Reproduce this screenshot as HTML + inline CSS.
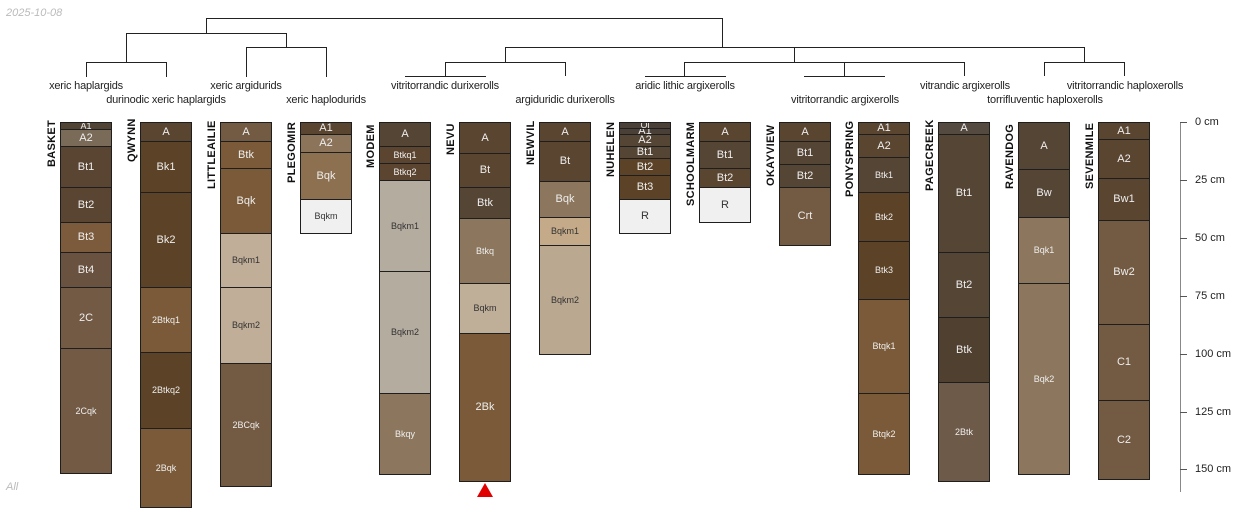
<!DOCTYPE html>
<html><head><meta charset="utf-8"><style>
body{margin:0;width:1250px;height:500px;background:#fff;position:relative;overflow:hidden;font-family:"Liberation Sans",sans-serif}
.l{position:absolute;background:#222}
.t{position:absolute;font-size:11px;color:#222;white-space:nowrap;transform:translateX(-50%);letter-spacing:-0.2px}
.p{position:absolute;top:122px;width:52px}
.h{position:absolute;left:0;right:0;box-sizing:border-box;border:1px solid #1e1e1e;display:flex;align-items:center;justify-content:center;color:#eee;font-size:11px;overflow:hidden;line-height:1}
.s{font-size:9px}
.d{color:#333}
.n{position:absolute;font-weight:bold;font-size:11px;color:#111;transform-origin:0 0;transform:rotate(-90deg);white-space:nowrap;letter-spacing:0.3px}
.ax{position:absolute;font-size:11px;color:#222}
</style></head><body>
<div style="position:absolute;left:6px;top:7px;font-size:11px;color:#bbb;font-style:italic">2025-10-08</div>
<div style="position:absolute;left:6px;top:481px;font-size:11px;color:#bbb;font-style:italic">All</div>

<!-- dendrogram -->
<div class="l" style="left:206px;top:18px;width:517px;height:1px"></div>
<div class="l" style="left:206px;top:18px;width:1px;height:15px"></div>
<div class="l" style="left:722px;top:18px;width:1px;height:29px"></div>
<div class="l" style="left:126px;top:33px;width:161px;height:1px"></div>
<div class="l" style="left:126px;top:33px;width:1px;height:29px"></div>
<div class="l" style="left:286px;top:33px;width:1px;height:14px"></div>
<div class="l" style="left:86px;top:62px;width:81px;height:1px"></div>
<div class="l" style="left:86px;top:62px;width:1px;height:15px"></div>
<div class="l" style="left:166px;top:62px;width:1px;height:15px"></div>
<div class="l" style="left:246px;top:47px;width:81px;height:1px"></div>
<div class="l" style="left:246px;top:47px;width:1px;height:30px"></div>
<div class="l" style="left:326px;top:47px;width:1px;height:30px"></div>
<div class="l" style="left:505px;top:47px;width:580px;height:1px"></div>
<div class="l" style="left:505px;top:47px;width:1px;height:15px"></div>
<div class="l" style="left:445px;top:62px;width:121px;height:1px"></div>
<div class="l" style="left:445px;top:62px;width:1px;height:14px"></div>
<div class="l" style="left:565px;top:62px;width:1px;height:14px"></div>
<div class="l" style="left:405px;top:76px;width:81px;height:1px"></div>
<div class="l" style="left:794px;top:47px;width:1px;height:15px"></div>
<div class="l" style="left:684px;top:62px;width:281px;height:1px"></div>
<div class="l" style="left:684px;top:62px;width:1px;height:14px"></div>
<div class="l" style="left:645px;top:76px;width:81px;height:1px"></div>
<div class="l" style="left:844px;top:62px;width:1px;height:14px"></div>
<div class="l" style="left:804px;top:76px;width:81px;height:1px"></div>
<div class="l" style="left:964px;top:62px;width:1px;height:14px"></div>
<div class="l" style="left:1084px;top:47px;width:1px;height:15px"></div>
<div class="l" style="left:1044px;top:62px;width:81px;height:1px"></div>
<div class="l" style="left:1044px;top:62px;width:1px;height:14px"></div>
<div class="l" style="left:1124px;top:62px;width:1px;height:14px"></div>

<div class="t" style="left:86px;top:80px">xeric haplargids</div>
<div class="t" style="left:166px;top:94px">durinodic xeric haplargids</div>
<div class="t" style="left:246px;top:80px">xeric argidurids</div>
<div class="t" style="left:326px;top:94px">xeric haplodurids</div>
<div class="t" style="left:445px;top:80px">vitritorrandic durixerolls</div>
<div class="t" style="left:565px;top:94px">argiduridic durixerolls</div>
<div class="t" style="left:685px;top:80px">aridic lithic argixerolls</div>
<div class="t" style="left:845px;top:94px">vitritorrandic argixerolls</div>
<div class="t" style="left:965px;top:80px">vitrandic argixerolls</div>
<div class="t" style="left:1045px;top:94px">torrifluventic haploxerolls</div>
<div class="t" style="left:1125px;top:80px">vitritorrandic haploxerolls</div>

<!-- names -->
<div class="n" style="left:46px;top:167px">BASKET</div>
<div class="n" style="left:126px;top:162px">QWYNN</div>
<div class="n" style="left:206px;top:189px">LITTLEAILIE</div>
<div class="n" style="left:286px;top:183px">PLEGOMIR</div>
<div class="n" style="left:365px;top:168px">MODEM</div>
<div class="n" style="left:445px;top:155px">NEVU</div>
<div class="n" style="left:525px;top:165px">NEWVIL</div>
<div class="n" style="left:605px;top:177px">NUHELEN</div>
<div class="n" style="left:685px;top:206px">SCHOOLMARM</div>
<div class="n" style="left:765px;top:186px">OKAYVIEW</div>
<div class="n" style="left:844px;top:197px">PONYSPRING</div>
<div class="n" style="left:924px;top:191px">PAGECREEK</div>
<div class="n" style="left:1004px;top:189px">RAVENDOG</div>
<div class="n" style="left:1084px;top:189px">SEVENMILE</div>

<!-- BASKET -->
<div class="p" style="left:60px">
<div class="h s" style="top:0;height:8px;background:#524434">A1</div>
<div class="h" style="top:7px;height:18px;background:#7a6a58">A2</div>
<div class="h" style="top:24px;height:42px;background:#5a4432">Bt1</div>
<div class="h" style="top:65px;height:36px;background:#5a4432">Bt2</div>
<div class="h" style="top:100px;height:31px;background:#7c5a3c">Bt3</div>
<div class="h" style="top:130px;height:36px;background:#6a5240">Bt4</div>
<div class="h" style="top:165px;height:62px;background:#735a45">2C</div>
<div class="h s" style="top:226px;height:126px;background:#735a45">2Cqk</div>
</div>
<!-- QWYNN -->
<div class="p" style="left:140px">
<div class="h" style="top:0;height:20px;background:#5a4530">A</div>
<div class="h" style="top:19px;height:52px;background:#5c4226">Bk1</div>
<div class="h" style="top:70px;height:96px;background:#5c4226">Bk2</div>
<div class="h s" style="top:165px;height:66px;background:#7a5a38">2Btkq1</div>
<div class="h s" style="top:230px;height:77px;background:#5c4226">2Btkq2</div>
<div class="h s" style="top:306px;height:80px;background:#7a5a38">2Bqk</div>
</div>
<!-- LITTLEAILIE -->
<div class="p" style="left:220px">
<div class="h" style="top:0;height:20px;background:#735a42">A</div>
<div class="h" style="top:19px;height:28px;background:#7a5a38">Btk</div>
<div class="h" style="top:46px;height:66px;background:#7a5a38">Bqk</div>
<div class="h s d" style="top:111px;height:55px;background:#c0ae98">Bqkm1</div>
<div class="h s d" style="top:165px;height:77px;background:#c0ae98">Bqkm2</div>
<div class="h s" style="top:241px;height:124px;background:#735a42">2BCqk</div>
</div>
<!-- PLEGOMIR -->
<div class="p" style="left:300px">
<div class="h" style="top:0;height:13px;background:#5a4530">A1</div>
<div class="h" style="top:12px;height:19px;background:#8c745a">A2</div>
<div class="h" style="top:30px;height:48px;background:#8c7050">Bqk</div>
<div class="h s d" style="top:77px;height:35px;background:#f0f0f0">Bqkm</div>
</div>
<!-- MODEM -->
<div class="p" style="left:379px">
<div class="h" style="top:0;height:25px;background:#554535">A</div>
<div class="h s" style="top:24px;height:18px;background:#5c4530">Btkq1</div>
<div class="h s" style="top:41px;height:18px;background:#5c4530">Btkq2</div>
<div class="h s d" style="top:58px;height:92px;background:#b5aca0">Bqkm1</div>
<div class="h s d" style="top:149px;height:123px;background:#b5aca0">Bqkm2</div>
<div class="h s" style="top:271px;height:82px;background:#8c775e">Bkqy</div>
</div>
<!-- NEVU -->
<div class="p" style="left:459px">
<div class="h" style="top:0;height:32px;background:#5a4530">A</div>
<div class="h" style="top:31px;height:35px;background:#5a4530">Bt</div>
<div class="h" style="top:65px;height:32px;background:#554535">Btk</div>
<div class="h s" style="top:96px;height:66px;background:#8c775e">Btkq</div>
<div class="h s d" style="top:161px;height:51px;background:#bfae98">Bqkm</div>
<div class="h" style="top:211px;height:149px;background:#7a5a38">2Bk</div>
</div>
<div style="position:absolute;left:477px;top:483px;width:0;height:0;border-left:8px solid transparent;border-right:8px solid transparent;border-bottom:14px solid #e00000"></div>
<!-- NEWVIL -->
<div class="p" style="left:539px">
<div class="h" style="top:0;height:20px;background:#5a4530">A</div>
<div class="h" style="top:19px;height:41px;background:#5a4530">Bt</div>
<div class="h" style="top:59px;height:37px;background:#8c775e">Bqk</div>
<div class="h s d" style="top:95px;height:29px;background:#c4aa88">Bqkm1</div>
<div class="h s d" style="top:123px;height:110px;background:#bba890">Bqkm2</div>
</div>
<!-- NUHELEN -->
<div class="p" style="left:619px">
<div class="h s" style="top:0;height:7px;background:#4a4038">Oi</div>
<div class="h" style="top:6px;height:7px;background:#4a4038">A1</div>
<div class="h" style="top:12px;height:13px;background:#554535">A2</div>
<div class="h" style="top:24px;height:13px;background:#554535">Bt1</div>
<div class="h" style="top:36px;height:18px;background:#5c4226">Bt2</div>
<div class="h" style="top:53px;height:25px;background:#5c4226">Bt3</div>
<div class="h d" style="top:77px;height:35px;background:#f0f0f0">R</div>
</div>
<!-- SCHOOLMARM -->
<div class="p" style="left:699px">
<div class="h" style="top:0;height:20px;background:#5a4530">A</div>
<div class="h" style="top:19px;height:28px;background:#554535">Bt1</div>
<div class="h" style="top:46px;height:20px;background:#5a4530">Bt2</div>
<div class="h d" style="top:65px;height:36px;background:#f0f0f0">R</div>
</div>
<!-- OKAYVIEW -->
<div class="p" style="left:779px">
<div class="h" style="top:0;height:20px;background:#5a4530">A</div>
<div class="h" style="top:19px;height:24px;background:#554535">Bt1</div>
<div class="h" style="top:42px;height:24px;background:#554535">Bt2</div>
<div class="h" style="top:65px;height:59px;background:#735a42">Crt</div>
</div>
<!-- PONYSPRING -->
<div class="p" style="left:858px">
<div class="h" style="top:0;height:13px;background:#5a4530">A1</div>
<div class="h" style="top:12px;height:24px;background:#5a4530">A2</div>
<div class="h s" style="top:35px;height:36px;background:#554535">Btk1</div>
<div class="h s" style="top:70px;height:50px;background:#5c4226">Btk2</div>
<div class="h s" style="top:119px;height:59px;background:#5c4226">Btk3</div>
<div class="h s" style="top:177px;height:95px;background:#7a5a38">Btqk1</div>
<div class="h s" style="top:271px;height:82px;background:#7a5a38">Btqk2</div>
</div>
<!-- PAGECREEK -->
<div class="p" style="left:938px">
<div class="h" style="top:0;height:13px;background:#554a40">A</div>
<div class="h" style="top:12px;height:119px;background:#554535">Bt1</div>
<div class="h" style="top:130px;height:66px;background:#554535">Bt2</div>
<div class="h" style="top:195px;height:66px;background:#504030">Btk</div>
<div class="h s" style="top:260px;height:100px;background:#6e5a48">2Btk</div>
</div>
<!-- RAVENDOG -->
<div class="p" style="left:1018px">
<div class="h" style="top:0;height:48px;background:#554535">A</div>
<div class="h" style="top:47px;height:49px;background:#554535">Bw</div>
<div class="h s" style="top:95px;height:67px;background:#8c775e">Bqk1</div>
<div class="h s" style="top:161px;height:192px;background:#8c775e">Bqk2</div>
</div>
<!-- SEVENMILE -->
<div class="p" style="left:1098px">
<div class="h" style="top:0;height:18px;background:#5a4530">A1</div>
<div class="h" style="top:17px;height:40px;background:#5a4530">A2</div>
<div class="h" style="top:56px;height:43px;background:#5a4530">Bw1</div>
<div class="h" style="top:98px;height:105px;background:#735a42">Bw2</div>
<div class="h" style="top:202px;height:77px;background:#735a42">C1</div>
<div class="h" style="top:278px;height:80px;background:#735a42">C2</div>
</div>

<!-- axis -->
<div style="position:absolute;left:1180px;top:122px;width:1px;height:370px;background:#888"></div>
<div style="position:absolute;left:1180px;top:122px;width:7px;height:1px;background:#555"></div>
<div style="position:absolute;left:1180px;top:180px;width:7px;height:1px;background:#555"></div>
<div style="position:absolute;left:1180px;top:238px;width:7px;height:1px;background:#555"></div>
<div style="position:absolute;left:1180px;top:296px;width:7px;height:1px;background:#555"></div>
<div style="position:absolute;left:1180px;top:354px;width:7px;height:1px;background:#555"></div>
<div style="position:absolute;left:1180px;top:412px;width:7px;height:1px;background:#555"></div>
<div style="position:absolute;left:1180px;top:469px;width:7px;height:1px;background:#555"></div>
<div class="ax" style="left:1195px;top:116px">0 cm</div>
<div class="ax" style="left:1195px;top:174px">25 cm</div>
<div class="ax" style="left:1195px;top:232px">50 cm</div>
<div class="ax" style="left:1195px;top:290px">75 cm</div>
<div class="ax" style="left:1195px;top:348px">100 cm</div>
<div class="ax" style="left:1195px;top:406px">125 cm</div>
<div class="ax" style="left:1195px;top:463px">150 cm</div>
</body></html>
